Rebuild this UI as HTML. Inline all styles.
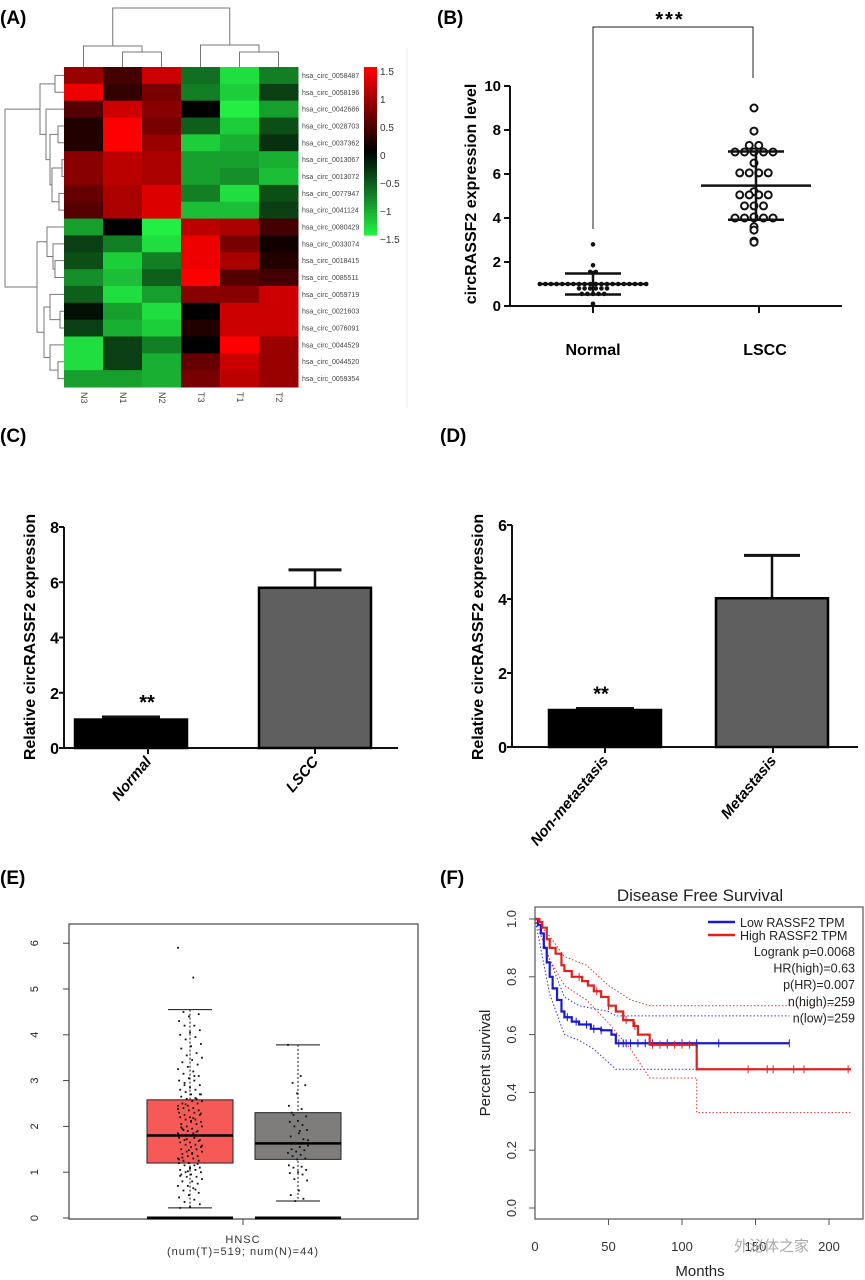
<!DOCTYPE html>
<html><head><meta charset="utf-8"><style>
html,body{margin:0;padding:0;background:#fff;}
svg{display:block;font-family:"Liberation Sans",Arial,sans-serif;}
</style></head><body>
<svg id="fig" width="865" height="1280" viewBox="0 0 865 1280" xmlns="http://www.w3.org/2000/svg">
<g font-weight="bold" font-size="19">
<text x="0" y="24">(A)</text>
<text x="437" y="24">(B)</text>
<text x="0" y="442">(C)</text>
<text x="440" y="442">(D)</text>
<text x="0" y="884">(E)</text>
<text x="440" y="884">(F)</text>
</g>
<g id="pa"></g>
<g id="pb"></g>
<g id="pc"></g>
<g id="pd"></g>
<g id="pe"></g>
<g id="pf"></g>
</svg>
<script>
// ===== Panel A data =====
const hmCols = ["N3","N1","N2","T3","T1","T2"];
const hmRows = ["hsa_circ_0058487","hsa_circ_0058196","hsa_circ_0042686","hsa_circ_0028703","hsa_circ_0037362","hsa_circ_0013067","hsa_circ_0013072","hsa_circ_0077947","hsa_circ_0041124","hsa_circ_0080429","hsa_circ_0033074","hsa_circ_0018415","hsa_circ_0085511","hsa_circ_0059719","hsa_circ_0021603","hsa_circ_0076091","hsa_circ_0044529","hsa_circ_0044520","hsa_circ_0059354"];
const hmValues = [
[0.9,0.4,1.2,-0.7,-1.4,-0.8],
[1.4,0.3,0.7,-0.8,-1.3,-0.4],
[0.5,1.2,0.8,0.0,-1.5,-1.0],
[0.2,1.5,0.7,-0.6,-1.3,-0.5],
[0.2,1.5,0.9,-1.3,-1.1,-0.3],
[0.8,1.1,1.0,-1.0,-1.0,-1.1],
[0.8,1.1,1.0,-1.0,-0.9,-1.2],
[0.6,1.0,1.3,-0.8,-1.4,-0.5],
[0.5,1.0,1.3,-1.2,-1.2,-0.4],
[-1.0,0.0,-1.5,1.1,1.0,0.4],
[-0.4,-0.8,-1.4,1.4,0.7,0.1],
[-0.5,-1.3,-0.8,1.4,1.0,0.2],
[-0.9,-1.2,-0.6,1.5,0.5,0.4],
[-0.6,-1.4,-1.0,0.8,0.8,1.2],
[-0.1,-1.0,-1.4,0.0,1.2,1.2],
[-0.4,-1.1,-1.3,0.2,1.2,1.2],
[-1.4,-0.4,-0.8,0.0,1.5,0.9],
[-1.4,-0.4,-1.1,0.6,1.2,0.9],
[-1.0,-1.0,-1.1,0.7,1.1,0.9]];
const cbTicks = [1.5,1,0.5,0,-0.5,-1,-1.5];
const cbTickLabels = ["1.5","1","0.5","0","\u22120.5","\u22121","\u22121.5"];
// ===== Panel B data =====
const bGroups = ["Normal","LSCC"];
const bNormal = [2.8,1.85,1.55,1.55,1.5,1.0,1.0,1.0,1.0,1.0,1.0,1.0,1.0,1.0,1.0,1.0,1.0,1.0,1.0,1.0,1.0,1.0,1.0,1.0,1.0,0.8,0.8,0.8,0.8,0.8,0.8,0.55,0.55,0.55,0.55,0.55,0.1];
const bLSCC = [9.0,7.95,7.3,7.3,7.0,7.0,7.0,7.0,7.0,6.5,6.05,6.05,6.05,6.05,5.2,5.05,5.05,5.05,5.05,4.55,4.55,4.55,4.05,4.0,4.0,4.0,4.0,4.0,3.6,3.45,2.95,2.9];
const bMean = [1.0,5.47];
const bSD = [0.48,1.55];
const bTicks = [0,2,4,6,8,10];
// ===== Panel C data =====
const cCats = ["Normal","LSCC"];
const cVals = [1.03,5.8];
const cErr = [0.09,0.65];
const cTicks = [0,2,4,6,8];
// ===== Panel D data =====
const dCats = ["Non-metastasis","Metastasis"];
const dVals = [1.0,4.02];
const dErr = [0.04,1.16];
const dTicks = [0,2,4,6];
// ===== Panel E data =====
const eCats = ["Tumor","Normal"];
const eQ1 = [1.2,1.28], eMed=[1.8,1.63], eQ3=[2.58,2.3], eLo=[0.22,0.37], eHi=[4.55,3.78];
const eTicks = [0,1,2,3,4,5,6];
const eTumorPts = [5.9,5.25,4.5,4.45,4.4,4.3,4.2,4.2,4.1,4.05,4.0,3.95,3.9,3.8,3.75,3.7,3.6,3.55,3.5,3.45,3.4,3.35,3.3,3.25,3.2,3.15,3.1,3.05,3.0,3.0,2.95,2.9,2.85,2.8,2.8,2.75,2.7,2.7,2.65,2.6,2.6,2.55,2.55,2.5,2.5,2.45,2.45,2.4,2.4,2.35,2.35,2.3,2.3,2.25,2.25,2.2,2.2,2.15,2.15,2.1,2.1,2.05,2.05,2.0,2.0,1.95,1.95,1.9,1.9,1.85,1.85,1.8,1.8,1.8,1.75,1.75,1.7,1.7,1.65,1.65,1.6,1.6,1.55,1.55,1.5,1.5,1.45,1.45,1.4,1.4,1.35,1.35,1.3,1.3,1.25,1.25,1.2,1.2,1.15,1.15,1.1,1.1,1.05,1.05,1.0,1.0,0.95,0.95,0.9,0.9,0.85,0.8,0.8,0.75,0.7,0.7,0.65,0.6,0.55,0.5,0.45,0.4,0.35,0.3,0.25,0.22,2.62,2.48,2.28,2.12,1.98,1.88,1.72,1.58,1.42,1.32,1.18,1.02,2.38,2.18,1.92,1.68,1.48,1.28,3.1,2.9,2.7,1.08,0.92,0.62];
const eNormalPts = [3.78,3.1,2.95,2.9,2.72,2.45,2.38,2.25,2.22,2.12,2.1,2.03,2.0,1.92,1.85,1.78,1.72,1.62,1.58,1.55,1.5,1.48,1.45,1.42,1.38,1.35,1.3,1.28,1.15,1.12,1.1,1.05,1.0,0.98,0.95,0.85,0.82,0.6,0.5,0.42,0.37,1.7,1.9,2.3];
// ===== Panel F data =====
const fLowT = [0,2,4,6,8,10,12,15,18,20,25,30,38,45,52,55,173];
const fLowS = [1.0,0.98,0.95,0.9,0.85,0.8,0.76,0.72,0.68,0.66,0.645,0.635,0.62,0.615,0.6,0.57,0.57];
const fHighT = [0,3,5,8,10,14,18,20,25,32,36,40,45,50,55,60,67,70,78,110,215];
const fHighS = [1.0,0.99,0.97,0.93,0.9,0.88,0.84,0.82,0.8,0.785,0.77,0.75,0.73,0.7,0.68,0.65,0.63,0.6,0.565,0.48,0.48];
const fLowUpT=[0,10,20,30,50,55,173], fLowUpS=[1,0.86,0.73,0.7,0.68,0.665,0.665];
const fLowLoT=[0,10,20,30,40,55,173], fLowLoS=[1,0.74,0.6,0.58,0.55,0.48,0.48];
const fHighUpT=[0,10,20,35,50,65,78,215], fHighUpS=[1,0.94,0.87,0.84,0.77,0.72,0.7,0.7];
const fHighLoT=[0,10,20,35,50,65,78,110,110,215], fHighLoS=[1,0.86,0.77,0.72,0.64,0.55,0.45,0.45,0.33,0.33];
const fLowCens = [22,28,35,40,45,57,60,62,65,70,75,80,90,100,110,125,173];
const fHighCens = [30,42,50,62,68,80,85,90,95,100,105,145,158,162,176,183,213];
const fYTicks = [0,0.2,0.4,0.6,0.8,1.0];
const fXTicks = [0,50,100,150,200];

const NS="http://www.w3.org/2000/svg";
function mk(parent,tag,attrs,text){const e=document.createElementNS(NS,tag);for(const k in attrs)e.setAttribute(k,attrs[k]);if(text!==undefined)e.textContent=text;parent.appendChild(e);return e;}

// ===== Panel A =====
(function(){
const g=document.getElementById('pa');
const x0=64,y0=67,cw=39,rh=320/19;
function col(v){const t=Math.min(Math.abs(v)/1.5,1);if(v>=0)return `rgb(${Math.round(255*t)},0,0)`;return `rgb(${Math.round(34*t)},${Math.round(238*t)},${Math.round(68*t)})`;}
hmValues.forEach((row,r)=>row.forEach((v,c)=>{
 const e=mk(g,'rect',{x:x0+c*cw,y:y0+r*rh,width:cw+0.5,height:rh+0.5,fill:col(v)});
 
 
}));
hmRows.forEach((n,r)=>{const e=mk(g,'text',{x:302,y:y0+r*rh+rh/2+2.5,'font-size':7,fill:'#444'},n);
 });
hmCols.forEach((n,c)=>{const cx=x0+c*cw+cw/2;const e=mk(g,'text',{x:cx,y:392,'font-size':9,fill:'#444',transform:`rotate(90 ${cx} 392)`,'text-anchor':'start','dominant-baseline':'middle'},n);
 });
// colorbar
for(let i=0;i<60;i++){const v=1.5-3*i/59;const e=mk(g,'rect',{x:364,y:67+i*168/60,width:13,height:168/60+0.6,fill:col(v)});
 }
cbTicks.forEach((v,i)=>{const y=67+(1.5-v)/3*168+4;const e=mk(g,'text',{x:380,y:y+4,'font-size':10,fill:'#333'},cbTickLabels[i]);
 });
// dendrograms
const ln={stroke:'#777','stroke-width':1,fill:'none'};
const cc=c=>x0+c*cw+cw/2, rc=r=>y0+r*rh+rh/2;
function hJoin(a,b,h,ha,hb){mk(g,'path',Object.assign({d:`M${a},${ha}V${h}H${b}V${hb}`},ln));}
// columns
hJoin(cc(1),cc(2),52,67,67); hJoin(cc(0),(cc(1)+cc(2))/2,46,67,52);
hJoin(cc(4),cc(5),52,67,67); hJoin(cc(3),(cc(4)+cc(5))/2,45,67,52);
hJoin((cc(0)+(cc(1)+cc(2))/2)/2,(cc(3)+(cc(4)+cc(5))/2)/2,8,46,45);
function vJoin(a,b,x,xa,xb){mk(g,'path',Object.assign({d:`M${xa},${a}H${x}V${b}H${xb}`},ln));}
const m=(a,b)=>(a+b)/2;
vJoin(rc(0),rc(1),55,64,64);
vJoin(rc(3),rc(4),58,64,64); vJoin(rc(5),rc(6),62,64,64); vJoin(rc(7),rc(8),59,64,64);
const p56=m(rc(5),rc(6)),p78=m(rc(7),rc(8));vJoin(p56,p78,52,62,59);
const p34=m(rc(3),rc(4)),p58=m(p56,p78);vJoin(p34,p58,50,58,52);
const p38=m(p34,p58);vJoin(rc(2),p38,46,64,50);
const p28=m(rc(2),p38),p01=m(rc(0),rc(1));vJoin(p01,p28,40,55,46);
vJoin(rc(11),rc(12),55,64,64);const p1112=m(rc(11),rc(12));vJoin(rc(10),p1112,53,64,55);
const p1012=m(rc(10),p1112);vJoin(rc(9),p1012,47,64,53);
vJoin(rc(14),rc(15),60,64,64);const p1415=m(rc(14),rc(15));vJoin(rc(13),p1415,50,64,60);
vJoin(rc(17),rc(18),58,64,64);const p1718=m(rc(17),rc(18));vJoin(rc(16),p1718,50,64,58);
const pA=m(rc(13),p1415),pB=m(rc(16),p1718);vJoin(pA,pB,44,50,50);
const p912=m(rc(9),p1012),p1318=m(pA,pB);vJoin(p912,p1318,37,47,44);
const top=m(p01,p28),bot=m(p912,p1318);vJoin(top,bot,5,40,37);
mk(g,'line',{x1:407,y1:48,x2:407,y2:408,stroke:'#eee'});
})();

// ===== Panel B =====
(function(){
const g=document.getElementById('pb');
const ax=510,by=306,ys=v=>by-v*22,gx=[593,759];
mk(g,'path',{d:`M${ax},${ys(10)}V${by}H842`,stroke:'#111','stroke-width':2,fill:'none'});
bTicks.forEach(t=>{mk(g,'line',{x1:ax-6,x2:ax,y1:ys(t),y2:ys(t),stroke:'#111','stroke-width':2});
 const e=mk(g,'text',{x:ax-9,y:ys(t)+5,'font-size':15,'font-weight':'bold','text-anchor':'end'},t);
 });
bGroups.forEach((n,i)=>{mk(g,'line',{x1:gx[i],x2:gx[i],y1:by,y2:by+7,stroke:'#111','stroke-width':2});
 const e=mk(g,'text',{x:gx[i]+(i?6:0),y:355,'font-size':16,'font-weight':'bold','text-anchor':'middle'},n);
 });
const yl=mk(g,'text',{x:0,y:0,'font-size':16,'font-weight':'bold','text-anchor':'middle',transform:'translate(476,194) rotate(-90)'},'circRASSF2 expression level');

mk(g,'path',{d:`M593,229V27H753V78`,stroke:'#222','stroke-width':1,fill:'none'});
const st=mk(g,'text',{x:670,y:26,'font-size':20,'font-weight':'bold','text-anchor':'middle','letter-spacing':'2'},'***');

function swarm(vals,cx,sp,filled){const grp={};vals.forEach(v=>{(grp[v]=grp[v]||[]).push(v);});
 Object.keys(grp).forEach(k=>{const n=grp[k].length;grp[k].forEach((v,j)=>{const x=cx+(j-(n-1)/2)*sp;
  const e=mk(g,'circle',filled?{cx:x,cy:ys(v),r:2.3,fill:'#111'}:{cx:x,cy:ys(v),r:3.5,fill:'#fff',stroke:'#111','stroke-width':2});
  });});}
swarm(bNormal,gx[0],5.6,true);swarm(bLSCC,gx[1]-5,9.5,false);
const mw=[55,55],sw=[28,28];
[0,1].forEach(i=>{const cx=i?gx[1]-3:gx[0];
 mk(g,'line',{x1:cx-mw[i],x2:cx+mw[i],y1:ys(bMean[i]),y2:ys(bMean[i]),stroke:'#111','stroke-width':2.5});
 mk(g,'line',{x1:cx-sw[i],x2:cx+sw[i],y1:ys(bMean[i]+bSD[i]),y2:ys(bMean[i]+bSD[i]),stroke:'#111','stroke-width':2.5});
 mk(g,'line',{x1:cx-sw[i],x2:cx+sw[i],y1:ys(bMean[i]-bSD[i]),y2:ys(bMean[i]-bSD[i]),stroke:'#111','stroke-width':2.5});
 mk(g,'line',{x1:cx,x2:cx,y1:ys(bMean[i]+bSD[i]),y2:ys(bMean[i]-bSD[i]),stroke:'#111','stroke-width':2.5});});
})();

// ===== Panels C & D =====
function barPanel(id,cats,vals,errs,ticks,ax,by,top,maxT,xEnd,bx,bw,tickX,capW,starX){
const g=document.getElementById(id);
const ys=v=>by-(by-top)*v/maxT;
mk(g,'path',{d:`M${ax},${top}V${by}H${xEnd}`,stroke:'#111','stroke-width':2,fill:'none'});
ticks.forEach(t=>{mk(g,'line',{x1:ax-5,x2:ax,y1:ys(t),y2:ys(t),stroke:'#111','stroke-width':2});
 const e=mk(g,'text',{x:ax-5,y:ys(t)+6,'font-size':16,'font-weight':'bold','text-anchor':'end',transform:`scale(1,1)`},t);
 });
cats.forEach((c,i)=>{
 const cx=bx[i]+bw/2;
 mk(g,'line',{x1:cx,x2:cx,y1:ys(vals[i]),y2:ys(vals[i]+errs[i]),stroke:'#111','stroke-width':2.5});
 mk(g,'line',{x1:cx-capW[i]/2,x2:cx+capW[i]/2,y1:ys(vals[i]+errs[i]),y2:ys(vals[i]+errs[i]),stroke:'#111','stroke-width':3});
 const b=mk(g,'rect',{x:bx[i],y:ys(vals[i]),width:bw,height:by-ys(vals[i]),fill:i?'#5f5f5f':'#000',stroke:'#000','stroke-width':2.5});
 
 mk(g,'line',{x1:tickX[i],x2:tickX[i],y1:by,y2:by+6,stroke:'#111','stroke-width':2});
 const t=mk(g,'text',{x:tickX[i]+4,y:by+14,'font-size':15,'font-weight':'bold','font-style':'italic','text-anchor':'end',transform:`rotate(-50 ${tickX[i]+4} ${by+14})`},c);
 });
const s=mk(g,'text',{x:starX,y:ys(vals[0]+errs[0])-8,'font-size':20,'font-weight':'bold','text-anchor':'middle'},'**');

const yl=mk(g,'text',{x:0,y:0,'font-size':16,'font-weight':'bold','text-anchor':'middle',transform:`translate(${ax-29},637) rotate(-90)`},'Relative circRASSF2 expression');

}
barPanel('pc',cCats,cVals,cErr,cTicks,64,748,527,8,398,[75,259],112,[148,315],[58,53],147);
barPanel('pd',dCats,dVals,dErr,dTicks,512,747,525,6,858,[549,716],112,[605,773],[58,56],601);

// ===== Panel E =====
(function(){
const g=document.getElementById('pe');
const ys=v=>1218-v*45.8;
mk(g,'rect',{x:69,y:924,width:349,height:295,fill:'none',stroke:'#444','stroke-width':1.2});
eTicks.forEach(t=>{mk(g,'line',{x1:63,x2:69,y1:ys(t),y2:ys(t),stroke:'#444'});
 const e=mk(g,'text',{x:0,y:0,'font-size':11,fill:'#222','text-anchor':'middle',transform:`translate(38,${ys(t)}) rotate(-90)`},t);
 });
const bx=[147,255],bw=86,cols=['#f65a56','#7f7d7b'];
eCats.forEach((c,i)=>{const cx=bx[i]+bw/2;
 mk(g,'line',{x1:cx,x2:cx,y1:ys(eHi[i]),y2:ys(eLo[i]),stroke:'#111','stroke-dasharray':'2,2'});
 mk(g,'line',{x1:cx-22,x2:cx+22,y1:ys(eHi[i]),y2:ys(eHi[i]),stroke:'#111'});
 mk(g,'line',{x1:cx-22,x2:cx+22,y1:ys(eLo[i]),y2:ys(eLo[i]),stroke:'#111'});
 const b=mk(g,'rect',{x:bx[i],y:ys(eQ3[i]),width:bw,height:ys(eQ1[i])-ys(eQ3[i]),fill:cols[i],stroke:'#222'});
 
 mk(g,'line',{x1:bx[i],x2:bx[i]+bw,y1:ys(eMed[i]),y2:ys(eMed[i]),stroke:'#000','stroke-width':2.5});
 mk(g,'line',{x1:bx[i],x2:bx[i]+bw,y1:ys(0),y2:ys(0),stroke:'#000','stroke-width':3});});
function pts(arr,cx,spread){arr.forEach((v,i)=>{const off=(((i*37)%23)/22-0.5)*spread;
 const e=mk(g,'rect',{x:cx+off-0.9,y:ys(v)-0.9,width:1.8,height:1.8,fill:'#111'});
 });}
pts(eTumorPts,190,24);pts(eNormalPts,298,20);
mk(g,'line',{x1:243,x2:243,y1:1219,y2:1225,stroke:'#444'});
const t1=mk(g,'text',{x:243,y:1243,'font-size':11,'text-anchor':'middle',fill:'#333','letter-spacing':'1'},'HNSC');

const t2=mk(g,'text',{x:243,y:1255,'font-size':11,'text-anchor':'middle',fill:'#333','letter-spacing':'1'},'(num(T)=519; num(N)=44)');

})();

// ===== Panel F =====
(function(){
const g=document.getElementById('pf');
const xs=t=>535+t*1.47, ys=s=>1208-s*289;
mk(g,'rect',{x:535,y:907,width:328,height:312,fill:'none',stroke:'#555','stroke-width':1.2});
fYTicks.forEach(t=>{mk(g,'line',{x1:529,x2:535,y1:ys(t),y2:ys(t),stroke:'#555'});
 const e=mk(g,'text',{x:0,y:0,'font-size':13,fill:'#333','text-anchor':'middle',transform:`translate(516,${ys(t)}) rotate(-90)`},t.toFixed(1));
 });
fXTicks.forEach(t=>{if(t>0)mk(g,'line',{x1:xs(t),x2:xs(t),y1:1219,y2:1225,stroke:'#555'});
 const e=mk(g,'text',{x:xs(t),y:1251,'font-size':13,fill:'#333','text-anchor':'middle'},t);
 });
function step(T,S){let d=`M${xs(T[0])},${ys(S[0])}`;for(let i=1;i<T.length;i++)d+=`H${xs(T[i])}V${ys(S[i])}`;return d;}
function poly(T,S){return T.map((t,i)=>(i?'L':'M')+xs(t)+','+ys(S[i])).join('');}
const d=[[fLowUpT,fLowUpS,'#3333cc','low-ci-upper'],[fLowLoT,fLowLoS,'#3333cc','low-ci-lower'],[fHighUpT,fHighUpS,'#dd3333','high-ci-upper'],[fHighLoT,fHighLoS,'#dd3333','high-ci-lower']];
d.forEach(a=>{const e=mk(g,'path',{d:poly(a[0],a[1]),stroke:a[2],'stroke-dasharray':'1.5,2',fill:'none','stroke-width':1});
 });
const bl=mk(g,'path',{d:step(fLowT,fLowS),stroke:'#1a1acc','stroke-width':2.2,fill:'none'});

const rd=mk(g,'path',{d:step(fHighT,fHighS),stroke:'#e02020','stroke-width':2.2,fill:'none'});

function survAt(T,S,t){let s=S[0];for(let i=0;i<T.length;i++)if(T[i]<=t)s=S[i];return s;}
fLowCens.forEach(t=>{const y=ys(survAt(fLowT,fLowS,t));const e=mk(g,'line',{x1:xs(t),x2:xs(t),y1:y-4,y2:y+4,stroke:'#1a1acc'});
 });
fHighCens.forEach(t=>{const y=ys(survAt(fHighT,fHighS,t));const e=mk(g,'line',{x1:xs(t),x2:xs(t),y1:y-4,y2:y+4,stroke:'#e02020'});
 });
const tt=mk(g,'text',{x:700,y:901,'font-size':17,'text-anchor':'middle',fill:'#222'},'Disease Free Survival');

const yl=mk(g,'text',{x:0,y:0,'font-size':15,'text-anchor':'middle',fill:'#222',transform:'translate(490,1063) rotate(-90)'},'Percent survival');

const xl=mk(g,'text',{x:700,y:1276,'font-size':15,'text-anchor':'middle',fill:'#222'},'Months');

mk(g,'line',{x1:708,x2:735,y1:922,y2:922,stroke:'#1a1acc','stroke-width':2.5});
mk(g,'line',{x1:708,x2:735,y1:935,y2:935,stroke:'#e02020','stroke-width':2.5});
const l1=mk(g,'text',{x:740,y:927,'font-size':12.5,fill:'#222'},'Low RASSF2 TPM');

const l2=mk(g,'text',{x:740,y:940,'font-size':12.5,fill:'#222'},'High RASSF2 TPM');

['Logrank p=0.0068','HR(high)=0.63','p(HR)=0.007','n(high)=259','n(low)=259'].forEach((s,i)=>{
 const e=mk(g,'text',{x:855,y:956+i*16.6,'font-size':12.5,fill:'#222','text-anchor':'end'},s);
 });
const wm=mk(g,'text',{x:734,y:1251,'font-size':15,fill:'#aaa','font-family':'"Liberation Sans","Noto Sans CJK SC",sans-serif'},'外泌体之家');

})();
</script>
</body></html>
